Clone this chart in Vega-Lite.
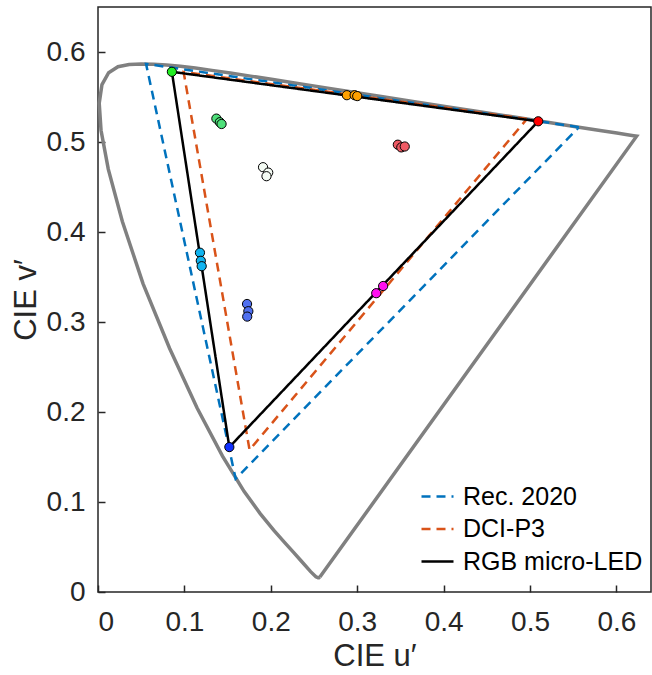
{
  "$schema": "https://vega.github.io/schema/vega-lite/v6.json",
  "width": 553,
  "height": 585,
  "autosize": "none",
  "padding": {"left": 98, "top": 7, "right": 1, "bottom": 83},
  "background": "white",
  "config": {
    "view": {"stroke": "#262626", "strokeWidth": 1.5},
    "font": "Liberation Sans",
    "axis": {
      "grid": false,
      "domain": false,
      "tickColor": "#262626",
      "tickWidth": 1.5,
      "tickSize": 7,
      "offset": -7,
      "labelFont": "Liberation Sans",
      "labelFontSize": 28,
      "labelColor": "#262626",
      "titleFont": "Liberation Sans",
      "titleFontSize": 31,
      "titleFontWeight": "normal",
      "titleColor": "#262626"
    },
    "legend": {
      "labelFont": "Liberation Sans",
      "labelFontSize": 25,
      "labelColor": "#000000",
      "labelLimit": 400
    }
  },
  "layer": [
    {
      "data": {
        "values": [
          {"o": 0, "u": 0.2568, "v": 0.0166},
          {"o": 1, "u": 0.2557, "v": 0.0159},
          {"o": 2, "u": 0.2547, "v": 0.0159},
          {"o": 3, "u": 0.2522, "v": 0.0169},
          {"o": 4, "u": 0.2461, "v": 0.0226},
          {"o": 5, "u": 0.2347, "v": 0.035},
          {"o": 6, "u": 0.2266, "v": 0.0437},
          {"o": 7, "u": 0.2161, "v": 0.0549},
          {"o": 8, "u": 0.2033, "v": 0.0688},
          {"o": 9, "u": 0.1877, "v": 0.0871},
          {"o": 10, "u": 0.169, "v": 0.1119},
          {"o": 11, "u": 0.1441, "v": 0.151},
          {"o": 12, "u": 0.1147, "v": 0.2044},
          {"o": 13, "u": 0.0828, "v": 0.2708},
          {"o": 14, "u": 0.0521, "v": 0.3427},
          {"o": 15, "u": 0.0282, "v": 0.4117},
          {"o": 16, "u": 0.0119, "v": 0.4698},
          {"o": 17, "u": 0.0035, "v": 0.5131},
          {"o": 18, "u": 0.0014, "v": 0.5432},
          {"o": 19, "u": 0.0046, "v": 0.5638},
          {"o": 20, "u": 0.0123, "v": 0.577},
          {"o": 21, "u": 0.0231, "v": 0.5837},
          {"o": 22, "u": 0.036, "v": 0.5861},
          {"o": 23, "u": 0.0501, "v": 0.5868},
          {"o": 24, "u": 0.0643, "v": 0.5865},
          {"o": 25, "u": 0.0792, "v": 0.5856},
          {"o": 26, "u": 0.0953, "v": 0.5841},
          {"o": 27, "u": 0.1127, "v": 0.5821},
          {"o": 28, "u": 0.1319, "v": 0.5796},
          {"o": 29, "u": 0.1531, "v": 0.5766},
          {"o": 30, "u": 0.1766, "v": 0.5732},
          {"o": 31, "u": 0.2026, "v": 0.5694},
          {"o": 32, "u": 0.2312, "v": 0.5651},
          {"o": 33, "u": 0.2623, "v": 0.5604},
          {"o": 34, "u": 0.296, "v": 0.5554},
          {"o": 35, "u": 0.3315, "v": 0.5501},
          {"o": 36, "u": 0.3681, "v": 0.5446},
          {"o": 37, "u": 0.4035, "v": 0.5393},
          {"o": 38, "u": 0.4379, "v": 0.5342},
          {"o": 39, "u": 0.4692, "v": 0.5296},
          {"o": 40, "u": 0.5203, "v": 0.5219},
          {"o": 41, "u": 0.5565, "v": 0.5165},
          {"o": 42, "u": 0.583, "v": 0.5125},
          {"o": 43, "u": 0.6005, "v": 0.5099},
          {"o": 44, "u": 0.6109, "v": 0.5084},
          {"o": 45, "u": 0.6199, "v": 0.507},
          {"o": 46, "u": 0.6234, "v": 0.5065},
          {"o": 47, "u": 0.2568, "v": 0.0166}
        ]
      },
      "mark": {"type": "line", "color": "#808080", "strokeWidth": 3.5},
      "encoding": {
        "x": {
          "field": "u",
          "type": "quantitative",
          "scale": {"domain": [0, 0.64], "nice": false, "zero": false},
          "axis": {
            "values": [0, 0.1, 0.2, 0.3, 0.4, 0.5, 0.6],
            "format": ".1~f",
            "labelPadding": 16,
            "title": "CIE u′",
            "titlePadding": 5
          }
        },
        "y": {
          "field": "v",
          "type": "quantitative",
          "scale": {"domain": [0, 0.65], "nice": false, "zero": false},
          "axis": {
            "values": [0, 0.1, 0.2, 0.3, 0.4, 0.5, 0.6],
            "format": ".1~f",
            "labelPadding": 13,
            "title": "CIE v′",
            "titlePadding": 4
          }
        },
        "order": {"field": "o", "type": "quantitative"}
      }
    },
    {
      "data": {
        "values": [
          {"s": "Rec. 2020", "o": 0, "u": 0.5566, "v": 0.5165},
          {"s": "Rec. 2020", "o": 1, "u": 0.0556, "v": 0.5868},
          {"s": "Rec. 2020", "o": 2, "u": 0.1593, "v": 0.1258},
          {"s": "Rec. 2020", "o": 3, "u": 0.5566, "v": 0.5165},
          {"s": "DCI-P3", "o": 0, "u": 0.4964, "v": 0.5256},
          {"s": "DCI-P3", "o": 1, "u": 0.0991, "v": 0.5777},
          {"s": "DCI-P3", "o": 2, "u": 0.1754, "v": 0.1579},
          {"s": "DCI-P3", "o": 3, "u": 0.4964, "v": 0.5256},
          {"s": "RGB micro-LED", "o": 0, "u": 0.5095, "v": 0.523},
          {"s": "RGB micro-LED", "o": 1, "u": 0.0855, "v": 0.578},
          {"s": "RGB micro-LED", "o": 2, "u": 0.152, "v": 0.161},
          {"s": "RGB micro-LED", "o": 3, "u": 0.5095, "v": 0.523}
        ]
      },
      "mark": {"type": "line", "strokeWidth": 2.5},
      "encoding": {
        "x": {"field": "u", "type": "quantitative"},
        "y": {"field": "v", "type": "quantitative"},
        "order": {"field": "o", "type": "quantitative"},
        "stroke": {
          "field": "s",
          "type": "nominal",
          "scale": {
            "domain": ["Rec. 2020", "DCI-P3", "RGB micro-LED"],
            "range": ["#0072BD", "#D95319", "#000000"]
          },
          "legend": {
            "title": null,
            "orient": "none",
            "legendX": 322,
            "legendY": 472,
            "padding": 0,
            "symbolType": "stroke",
            "symbolSize": 1024,
            "symbolStrokeWidth": 2.5,
            "labelOffset": 8,
            "labelLimit": 400,
            "rowPadding": 1.5
          }
        },
        "strokeDash": {
          "field": "s",
          "type": "nominal",
          "scale": {
            "domain": ["Rec. 2020", "DCI-P3", "RGB micro-LED"],
            "range": [[9, 6], [9, 6], [1, 0]]
          },
          "legend": {"title": null}
        }
      }
    },
    {
      "data": {
        "values": [
          {"u": 0.0855, "v": 0.578, "c": "#22ee22"},
          {"u": 0.5095, "v": 0.523, "c": "#ff0000"},
          {"u": 0.152, "v": 0.161, "c": "#1030ff"},
          {"u": 0.288, "v": 0.552, "c": "#ffa000"},
          {"u": 0.297, "v": 0.552, "c": "#ffa000"},
          {"u": 0.3, "v": 0.551, "c": "#ffa000"},
          {"u": 0.347, "v": 0.497, "c": "#ef5a64"},
          {"u": 0.351, "v": 0.494, "c": "#ef5a64"},
          {"u": 0.355, "v": 0.495, "c": "#ef5a64"},
          {"u": 0.191, "v": 0.472, "c": "#f4fbf4"},
          {"u": 0.197, "v": 0.466, "c": "#f4fbf4"},
          {"u": 0.195, "v": 0.462, "c": "#f4fbf4"},
          {"u": 0.137, "v": 0.526, "c": "#4ee07a"},
          {"u": 0.141, "v": 0.522, "c": "#4ee07a"},
          {"u": 0.143, "v": 0.52, "c": "#4ee07a"},
          {"u": 0.118, "v": 0.377, "c": "#10b4f0"},
          {"u": 0.119, "v": 0.368, "c": "#10b4f0"},
          {"u": 0.12, "v": 0.362, "c": "#10b4f0"},
          {"u": 0.1725, "v": 0.32, "c": "#5070f0"},
          {"u": 0.174, "v": 0.312, "c": "#5070f0"},
          {"u": 0.1727, "v": 0.306, "c": "#5070f0"},
          {"u": 0.322, "v": 0.332, "c": "#ff10f0"},
          {"u": 0.33, "v": 0.34, "c": "#ff10f0"}
        ]
      },
      "mark": {"type": "circle", "size": 85, "stroke": "#000000", "strokeWidth": 1, "opacity": 1},
      "encoding": {
        "x": {"field": "u", "type": "quantitative"},
        "y": {"field": "v", "type": "quantitative"},
        "fill": {"field": "c", "type": "nominal", "scale": null}
      }
    }
  ]
}
